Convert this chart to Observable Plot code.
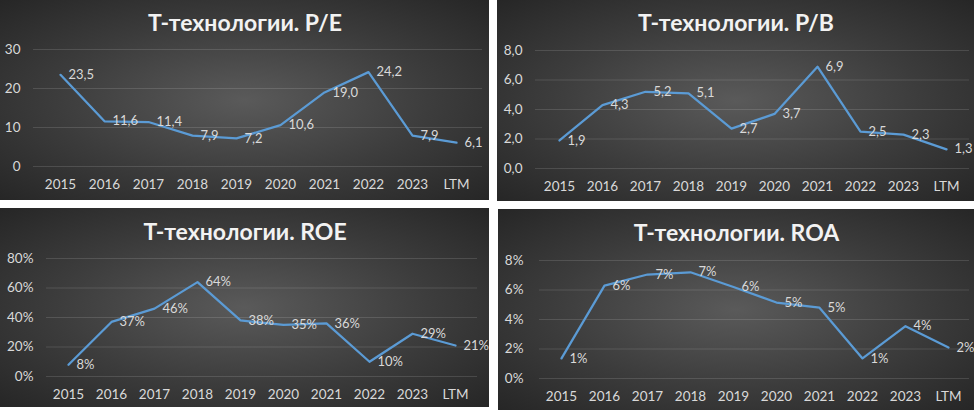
<!DOCTYPE html>
<html>
<head>
<meta charset="utf-8">
<script src="https://cdn.jsdelivr.net/npm/d3@7"></script>
<script src="https://cdn.jsdelivr.net/npm/@observablehq/plot@0.6"></script>
<style>
  html, body { margin: 0; padding: 0; background: #ffffff; }
  #wrap { position: relative; width: 974px; height: 410px; background: #ffffff; overflow: hidden; }
  .panel { position: absolute; background: radial-gradient(ellipse at 50% 50%, #5a5a5a 0%, #3c3c3c 55%, #262626 100%); }
  .panel svg { display: block; }
</style>
</head>
<body>
<div id="wrap"></div>
<script>
const years = ["2015", "2016", "2017", "2018", "2019", "2020", "2021", "2022", "2023", "LTM"];
const peValues = [23.5, 11.6, 11.4, 7.9, 7.2, 10.6, 19.0, 24.2, 7.9, 6.1];
const pbValues = [1.9, 4.3, 5.2, 5.1, 2.7, 3.7, 6.9, 2.5, 2.3, 1.3];
const roeValues = [8, 37, 46, 64, 38, 35, 36, 10, 29, 21];
const roaValues = [1.36, 6.3, 7.05, 7.2, 6.2, 5.15, 4.8, 1.36, 3.55, 2.1];
const peTicks = [0, 10, 20, 30];
const pbTicks = [0, 2, 4, 6, 8];
const roeTicks = [0, 20, 40, 60, 80];
const roaTicks = [0, 2, 4, 6, 8];
const titles = ["Т-технологии. P/E", "Т-технологии. P/B", "Т-технологии. ROE", "Т-технологии. ROA"];

const comma1 = v => d3.format(".1f")(v).replace(".", ",");
const pct0 = v => d3.format(".0f")(v) + "%";
const int0 = v => d3.format("d")(v);

const panels = [
  {title: titles[0], values: peValues, ticks: peTicks, tickFmt: int0, labelFmt: comma1,
   left: 0, top: 0, width: 489, height: 200, mL: 33, mR: 7, mT: 49, mB: 34, titleY: 23, tickPad: 13},
  {title: titles[1], values: pbValues, ticks: pbTicks, tickFmt: comma1, labelFmt: comma1,
   left: 497, top: 0, width: 477, height: 201, mL: 38, mR: 5, mT: 50, mB: 33, titleY: 23, tickPad: 13},
  {title: titles[2], values: roeValues, ticks: roeTicks, tickFmt: pct0, labelFmt: pct0,
   left: 0, top: 208, width: 489, height: 199, mL: 46, mR: 12, mT: 50, mB: 31, titleY: 24, tickPad: 13},
  {title: titles[3], values: roaValues, ticks: roaTicks, tickFmt: pct0, labelFmt: pct0,
   left: 498, top: 209, width: 476, height: 201, mL: 41, mR: 5, mT: 51, mB: 32, titleY: 24, tickPad: 16}
];

const wrap = document.getElementById("wrap");
for (const p of panels) {
  const data = years.map((y, i) => ({year: y, value: p.values[i]}));
  const frameCenter = p.mL + (p.width - p.mL - p.mR) / 2;
  const chart = Plot.plot({
    width: p.width,
    height: p.height,
    marginLeft: p.mL,
    marginRight: p.mR,
    marginTop: p.mT,
    marginBottom: p.mB,
    style: {background: "transparent", fontFamily: "Lato, 'Open Sans', sans-serif", fontSize: "13px", color: "#d9d9d9", overflow: "visible"},
    x: {type: "point", domain: years, padding: 0.5, label: null},
    y: {domain: [p.ticks[0], p.ticks[p.ticks.length - 1]], label: null},
    marks: [
      Plot.gridY(p.ticks, {stroke: "#ffffff", strokeOpacity: 0.13, strokeWidth: 1}),
      Plot.axisX({tickSize: 0, tickPadding: 13, fontSize: 13.5, fill: "#d9d9d9", label: null}),
      Plot.axisY(p.ticks, {tickSize: 0, tickPadding: p.tickPad, tickFormat: p.tickFmt, fontSize: 13.5, fill: "#d9d9d9", label: null}),
      Plot.line(data, {x: "year", y: "value", stroke: "#5b9bd5", strokeWidth: 2.25, strokeLinejoin: "round", strokeLinecap: "round"}),
      Plot.text(data, {x: "year", y: "value", text: d => p.labelFmt(d.value), dx: 8, textAnchor: "start", lineAnchor: "middle", fill: "#d9d9d9", fontSize: 13}),
      Plot.text([p.title], {frameAnchor: "top", lineAnchor: "middle", dy: p.titleY - p.mT, dx: p.width / 2 - frameCenter, fill: "#f2f2f2", fontSize: 23, fontWeight: "bold"})
    ]
  });
  const div = document.createElement("div");
  div.className = "panel";
  div.style.left = p.left + "px";
  div.style.top = p.top + "px";
  div.style.width = p.width + "px";
  div.style.height = p.height + "px";
  div.appendChild(chart);
  wrap.appendChild(div);
}
</script>
</body>
</html>
